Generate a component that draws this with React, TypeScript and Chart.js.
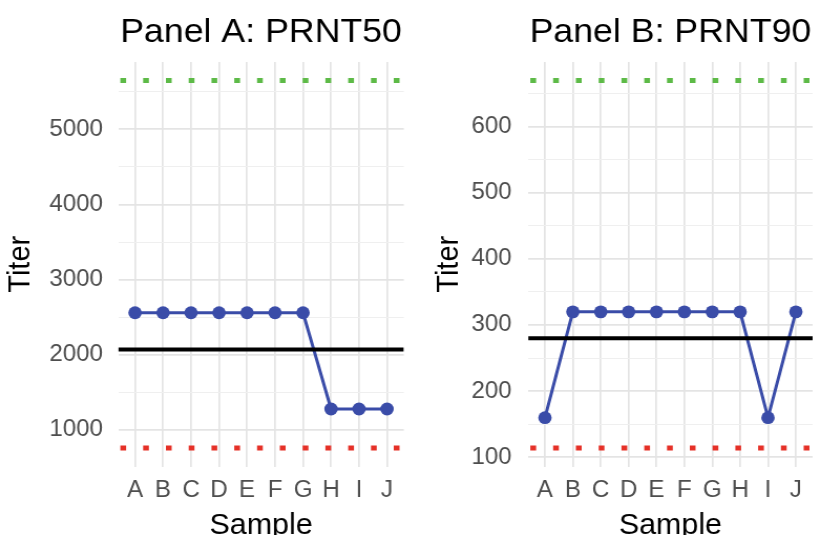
import { useEffect, useRef } from "react";
import { Chart, registerables } from "chart.js";

Chart.register(...registerables);

// ---------- data ----------
const categories = ["A", "B", "C", "D", "E", "F", "G", "H", "I", "J"];
const prnt50Values = [2560, 2560, 2560, 2560, 2560, 2560, 2560, 1280, 1280, 1280];
const prnt90Values = [160, 320, 320, 320, 320, 320, 320, 320, 160, 320];
const prnt50Reference = 2070;
const prnt50Upper = 5650;
const prnt50Lower = 760;
const prnt90Reference = 280;
const prnt90Upper = 670;
const prnt90Lower = 114;
const prnt50TickSteps = [1000, 500]; // major (labelled), minor
const prnt90TickSteps = [100, 50];

// ---------- styles ----------
const FONT = "'Liberation Sans', Arial, sans-serif";
const BLUE = "#3a4ca8";
const GREEN = "#5dba47";
const RED = "#e53027";
const GRID_MAJOR = "#e4e4e4";
const GRID_MINOR = "#efefef";
const H = 535;
const AREA_TOP = 62;
const AREA_BOTTOM = 466.5;

type PanelDef = {
  title: string;
  values: number[];
  ref: number;
  upper: number;
  lower: number;
  steps: number[];
  cssLeft: number;
  cssWidth: number;
  bufWidth: number;
  areaLeft: number;
  padRight: number;
  yTickPad: number;
  yTitlePad: number;
};

const panels: PanelDef[] = [
  {
    title: "Panel A: PRNT50",
    values: prnt50Values,
    ref: prnt50Reference,
    upper: prnt50Upper,
    lower: prnt50Lower,
    steps: prnt50TickSteps,
    cssLeft: 0,
    cssWidth: 420,
    bufWidth: 400,
    areaLeft: 112.6,
    padRight: 15.4,
    yTickPad: 14.5,
    yTitlePad: 5.8,
  },
  {
    title: "Panel B: PRNT90",
    values: prnt90Values,
    ref: prnt90Reference,
    upper: prnt90Upper,
    lower: prnt90Lower,
    steps: prnt90TickSteps,
    cssLeft: 420,
    cssWidth: 401,
    bufWidth: 382,
    areaLeft: 103.1,
    padRight: 8,
    yTickPad: 15.8,
    yTitlePad: 13.2,
  },
];

function makeConfig(p: PanelDef): any {
  const all = [...p.values, p.ref, p.upper, p.lower];
  const lo = Math.min(...all);
  const hi = Math.max(...all);
  const pad = (hi - lo) * 0.05;
  const yMin = lo - pad;
  const yMax = hi + pad;
  const xMin = -0.6;
  const xMax = categories.length - 1 + 0.6;
  const hline = (v: number) => [
    { x: xMin, y: v },
    { x: xMax, y: v },
  ];
  const [major, minor] = p.steps;
  const isMajor = (v: any) => typeof v === "number" && Math.abs(v % major) < 1e-6;
  const yTicks: { value: number }[] = [];
  for (let v = Math.ceil(yMin / minor) * minor; v <= yMax; v += minor) yTicks.push({ value: v });
  const xTicks = categories.map((_, i) => ({ value: i }));

  return {
    type: "line",
    data: {
      datasets: [
        { data: hline(p.ref), borderColor: "#000", borderWidth: 4, pointRadius: 0 },
        {
          data: hline(p.upper),
          borderColor: GREEN,
          borderWidth: 5,
          borderDash: [5.5, 16.2],
          borderDashOffset: -2,
          pointRadius: 0,
        },
        {
          data: hline(p.lower),
          borderColor: RED,
          borderWidth: 5,
          borderDash: [5.5, 16.2],
          borderDashOffset: -2,
          pointRadius: 0,
        },
        {
          data: p.values.map((v, i) => ({ x: i, y: v })),
          borderColor: BLUE,
          borderWidth: 3,
          pointRadius: 6.4,
          pointBackgroundColor: BLUE,
          pointBorderWidth: 0,
          pointHoverRadius: 6.4,
        },
      ],
    },
    options: {
      animation: false,
      responsive: false,
      devicePixelRatio: 1,
      events: [],
      layout: { padding: { left: 0, right: p.padRight, top: 0, bottom: 0 } },
      plugins: {
        legend: { display: false },
        tooltip: { enabled: false },
        title: {
          display: true,
          text: p.title,
          color: "#000",
          fullSize: false,
          align: "center",
          font: { family: FONT, size: 34, weight: "normal", lineHeight: 1 },
          padding: { top: 15.5, bottom: AREA_TOP - 15.5 - 34 },
        },
      },
      scales: {
        x: {
          type: "linear",
          min: xMin,
          max: xMax,
          afterBuildTicks: (scale: any) => {
            scale.ticks = xTicks.map((t) => ({ ...t }));
          },
          afterFit: (scale: any) => {
            scale.height = H - AREA_BOTTOM;
          },
          border: { display: false },
          grid: { color: GRID_MAJOR, lineWidth: 1.7, drawTicks: false },
          ticks: {
            autoSkip: false,
            maxRotation: 0,
            minRotation: 0,
            padding: 13,
            color: "#4d4d4d",
            font: { family: FONT, size: 23, lineHeight: 1 },
            callback: (v: any) => categories[v] ?? "",
          },
          title: {
            display: true,
            text: "Sample",
            color: "#000",
            font: { family: FONT, size: 29, lineHeight: 1 },
            padding: { top: 0, bottom: -5.5 },
          },
        },
        y: {
          type: "linear",
          min: yMin,
          max: yMax,
          afterBuildTicks: (scale: any) => {
            scale.ticks = yTicks.map((t) => ({ ...t }));
          },
          afterFit: (scale: any) => {
            scale.width = p.areaLeft;
          },
          border: { display: false },
          grid: {
            drawTicks: false,
            color: (ctx: any) => (isMajor(ctx.tick && ctx.tick.value) ? GRID_MAJOR : GRID_MINOR),
            lineWidth: (ctx: any) => (isMajor(ctx.tick && ctx.tick.value) ? 1.8 : 1.1),
          },
          ticks: {
            autoSkip: false,
            padding: p.yTickPad,
            color: "#4d4d4d",
            font: { family: FONT, size: 23, lineHeight: 1 },
            callback: (v: any) => (isMajor(v) ? String(v) : ""),
          },
          title: {
            display: true,
            text: "Titer",
            color: "#000",
            font: { family: FONT, size: 29, lineHeight: 1 },
            padding: { top: p.yTitlePad, bottom: 0 },
          },
        },
      },
    },
  };
}

function Panel({ p }: { p: PanelDef }) {
  const ref = useRef<HTMLCanvasElement | null>(null);
  useEffect(() => {
    if (!ref.current) return;
    const chart = new Chart(ref.current, makeConfig(p));
    return () => chart.destroy();
  }, [p]);
  return (
    <canvas
      ref={ref}
      width={p.bufWidth}
      height={H}
      style={{
        position: "absolute",
        left: p.cssLeft,
        top: 0,
        width: p.cssWidth,
        height: H,
      }}
    />
  );
}

export default function App() {
  return (
    <div
      style={{
        position: "fixed",
        left: 0,
        top: 0,
        width: 821,
        height: H,
        overflow: "hidden",
        background: "#fff",
      }}
    >
      {panels.map((p) => (
        <Panel key={p.title} p={p} />
      ))}
    </div>
  );
}
